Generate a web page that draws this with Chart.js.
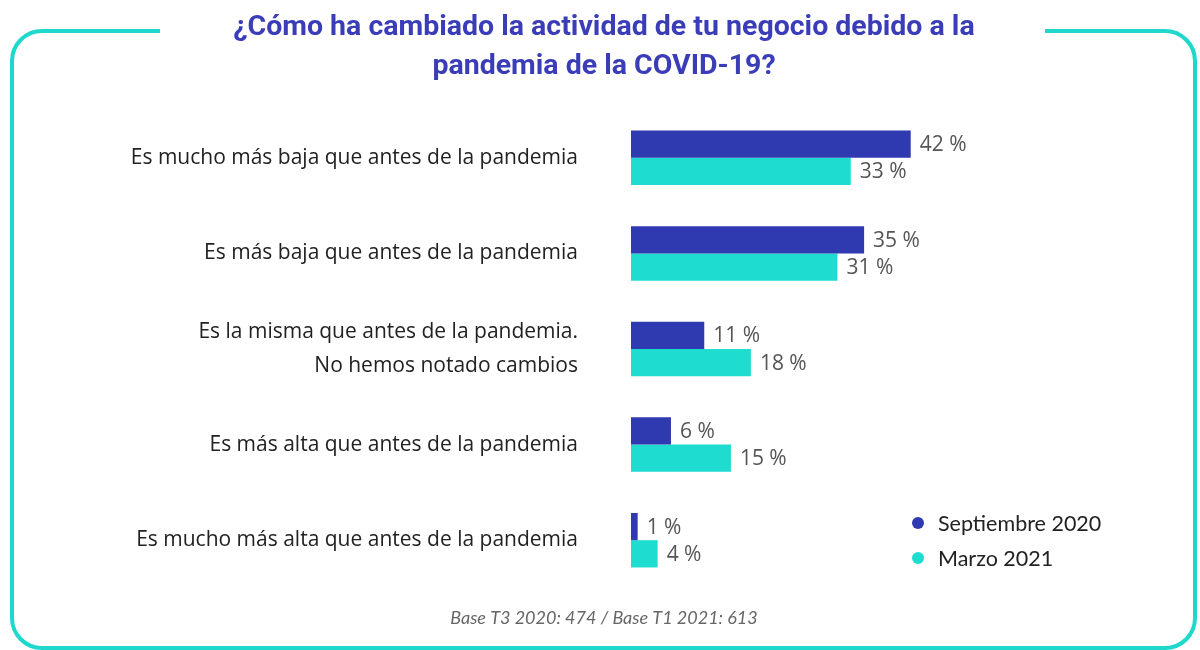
<!DOCTYPE html>
<html>
<head>
<meta charset="utf-8">
<script src="https://cdn.jsdelivr.net/npm/chart.js@4.4.1/dist/chart.umd.min.js"></script>
<style>
  html, body { margin: 0; padding: 0; background: #fff; }
  #wrap { width: 1200px; height: 650px; position: relative; }
</style>
</head>
<body>
<div id="wrap"><canvas id="chart" width="1200" height="650"></canvas></div>
<script>
// categories and values
const categories = [
  "Es mucho más baja que antes de la pandemia",
  "Es más baja que antes de la pandemia",
  ["Es la misma que antes de la pandemia.", "No hemos notado cambios"],
  "Es más alta que antes de la pandemia",
  "Es mucho más alta que antes de la pandemia"
];
const seriesNames = ["Septiembre 2020", "Marzo 2021"];
const septiembre2020 = [42, 35, 11, 6, 1];
const marzo2021 = [33, 31, 18, 15, 4];

const titleLines = ["¿Cómo ha cambiado la actividad de tu negocio debido a la", "pandemia de la COVID-19?"];
const footnote = "Base T3 2020: 474 / Base T1 2021: 613";

const DARK = "#2f39b0";
const CYAN = "#1edcd0";

// rounded frame with a gap at the top, title and footnote centred on the page
const framePlugin = {
  id: "frame",
  beforeDraw(chart) {
    const c = chart.ctx;
    const l = 12, t = 31, r = 1195, b = 648, rad = 30;
    c.save();
    c.strokeStyle = "#1ed8cc";
    c.lineWidth = 4;
    c.beginPath();
    c.moveTo(160, t);
    c.lineTo(l + rad, t);
    c.arcTo(l, t, l, t + rad, rad);
    c.lineTo(l, b - rad);
    c.arcTo(l, b, l + rad, b, rad);
    c.lineTo(r - rad, b);
    c.arcTo(r, b, r, b - rad, rad);
    c.lineTo(r, t + rad);
    c.arcTo(r, t, r - rad, t, rad);
    c.lineTo(1045, t);
    c.stroke();

    c.textAlign = "center";
    c.textBaseline = "middle";
    c.fillStyle = "#3b3db8";
    c.font = "bold 28.5px Roboto";
    titleLines.forEach((line, i) => c.fillText(line, 604, 28 + i * 39));

    c.fillStyle = "#666";
    c.font = "italic 18px Lato";
    c.fillText(footnote, 604, 618);
    c.restore();
  }
};

// value labels next to the bars and the dot legend
const labelPlugin = {
  id: "valueLabels",
  afterDatasetsDraw(chart) {
    const c = chart.ctx;
    c.save();
    c.font = "21px 'Open Sans'";
    c.fillStyle = "#555";
    c.textBaseline = "middle";
    c.textAlign = "left";
    chart.data.datasets.forEach((ds, i) => {
      chart.getDatasetMeta(i).data.forEach((bar, j) => {
        c.fillText(ds.data[j] + " %", bar.x + 9, bar.y + 1);
      });
    });

    // legend
    c.font = "21.5px Lato";
    chart.data.datasets.forEach((ds, i) => {
      const y = 523 + i * 35;
      c.beginPath();
      c.arc(918, y, 6, 0, Math.PI * 2);
      c.fillStyle = ds.backgroundColor;
      c.fill();
      c.fillStyle = "#222";
      c.fillText(ds.label, 938, y + 1);
    });
    c.restore();
  }
};

new Chart(document.getElementById("chart"), {
  type: "bar",
  data: {
    labels: categories,
    datasets: [
      { label: seriesNames[0], data: septiembre2020, backgroundColor: DARK },
      { label: seriesNames[1], data: marzo2021, backgroundColor: CYAN }
    ]
  },
  options: {
    indexAxis: "y",
    responsive: false,
    animation: false,
    layout: { padding: { left: 0, right: 236, top: 110, bottom: 62 } },
    datasets: {
      bar: { categoryPercentage: 0.57, barPercentage: 1.0 }
    },
    scales: {
      x: { display: false, min: 0, max: 50 },
      y: {
        grid: { display: false, drawTicks: false },
        border: { display: false },
        ticks: {
          color: "#222",
          padding: 53,
          font: { family: "'Open Sans'", size: 21, lineHeight: 1.65 }
        },
        afterFit(scale) {
          scale.width = 631;
          // tick padding should not push the plot area in vertically
          scale.paddingTop = 0;
          scale.paddingBottom = 0;
        }
      }
    },
    plugins: {
      legend: { display: false },
      tooltip: { enabled: false },
      title: { display: false }
    }
  },
  plugins: [framePlugin, labelPlugin]
});
</script>
</body>
</html>
